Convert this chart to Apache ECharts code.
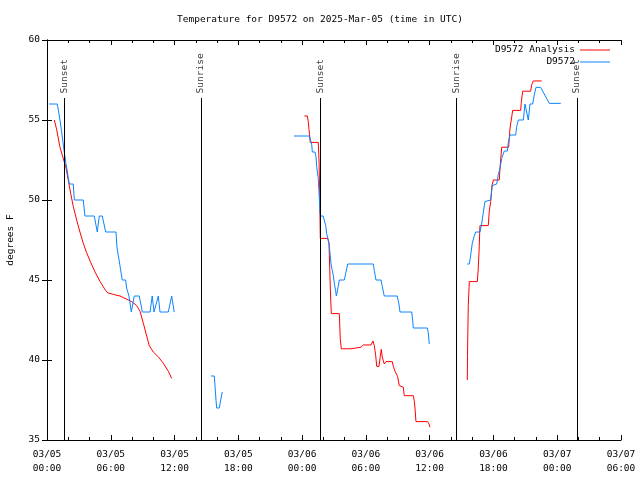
<!DOCTYPE html>
<html><head><meta charset="utf-8">
<script src="https://cdn.jsdelivr.net/npm/echarts@6/dist/echarts.min.js"></script>
<style>html,body{margin:0;padding:0;background:#fff}#c{width:640px;height:480px}</style>
</head><body><div id="c"></div>
<script>
// hours since 2025-03-05 00:00 UTC; null temperature = gap in the record
const analysisHours = [0.69,0.91,1.22,1.53,1.79,2.00,2.23,2.47,2.79,3.10,3.41,3.73,4.11,4.52,5.00,5.46,5.71,6.24,6.87,7.34,7.97,8.44,8.75,9.06,9.38,9.62,10.00,10.47,10.94,11.41,11.73,
  18,
  24.21,24.49,24.58,24.65,24.77,25.52,25.59,25.65,25.71,26.41,26.53,26.62,26.69,26.75,27.50,27.59,27.69,28.57,28.66,29.54,29.76,30.48,30.67,30.79,30.92,31.02,31.23,31.35,31.45,31.54,31.64,31.73,31.89,32.48,32.58,32.74,32.90,32.99,33.14,33.52,33.61,34.46,34.56,34.62,34.71,35.81,35.94,36.03,
  38,
  39.54,39.56,39.63,39.73,40.48,40.55,40.64,40.73,41.51,41.61,41.74,41.86,41.99,42.55,42.62,42.71,42.78,43.43,43.56,43.72,43.81,44.56,44.62,44.75,45.50,45.60,45.75,46.54];
const analysisTemps = [55,54.4,53.3,52.6,52,51.25,50.4,49.6,48.75,48,47.3,46.7,46.1,45.5,44.9,44.4,44.2,44.1,44,43.85,43.65,43.4,43.05,42.3,41.5,40.9,40.5,40.2,39.8,39.3,38.85,
  null,
  55.25,55.25,54.9,54.4,53.6,53.6,52.5,50.5,47.6,47.6,47.3,45.2,43.75,42.9,42.9,41.3,40.7,40.7,40.77,40.8,40.94,40.94,41.19,40.9,40.3,39.6,39.6,40.2,40.67,40.2,39.95,39.75,39.9,39.9,39.6,39.3,39.2,38.96,38.4,38.3,37.77,37.77,37.4,37,36.15,36.15,36,35.8,
  null,
  38.75,40.3,43.4,44.9,44.9,45.5,46.7,48.4,48.4,49.3,49.9,50.9,51.25,51.25,52,52.75,53.3,53.3,54.5,55.2,55.6,55.6,56.1,56.8,56.8,57.2,57.44,57.44];

const obsHours = [0.19,0.97,1.22,1.48,1.60,1.69,1.79,1.91,2.00,2.10,2.47,2.57,3.41,3.57,4.45,4.73,4.92,5.20,5.52,6.49,6.59,6.77,6.96,7.08,7.40,7.49,7.71,7.93,8.21,8.68,8.97,9.69,9.90,10.07,10.47,10.63,11.41,11.73,11.97,
  13,
  15.43,15.74,15.90,15.96,16.21,16.34,16.49,
  20,
  23.24,24.68,24.90,24.96,25.21,25.31,25.37,25.52,25.59,25.63,25.68,25.75,25.99,26.08,26.22,26.31,26.53,26.65,26.72,26.84,26.93,27.03,27.16,27.22,27.31,27.40,27.50,27.97,28.10,28.29,30.70,30.79,30.95,31.42,31.54,31.73,32.95,33.11,33.21,34.31,34.40,34.46,35.78,35.87,35.96,
  37,
  39.54,39.73,39.86,40.01,40.17,40.33,40.73,40.89,41.04,41.20,41.74,41.89,41.99,42.31,42.46,42.62,42.78,43.02,43.31,43.40,43.56,44.09,44.19,44.34,44.81,44.97,45.28,45.44,45.69,45.84,46.00,46.44,47.26,48.33];
const obsTemps = [56,56,55,53.75,53.1,52.7,52.25,51.8,51.4,51,51,50,50,49,49,48,49,49,48,48,47,46.3,45.5,45,45,44.5,44,43,44,44,43,43,44,43,44,43,43,44,43,
  null,
  39,39,37.5,37,37,37.5,38,
  null,
  54,54,53.5,53,53,52.7,52.1,51.35,50.5,50,49.2,49,49,48.75,48.4,47.9,47.3,46.5,46,45.6,45.3,44.8,44.3,44,44.3,44.6,45,45,45.4,46,46,45.6,45,45,44.6,44,44,43.5,43,43,42.5,42,42,41.7,41,
  null,
  46,46,46.56,47.3,47.7,48,48,48.5,49.2,49.9,50,50.9,51,51,51.6,52,52.6,53.06,53.06,53.6,54.06,54.06,54.6,55,55,56,55,56,56,56.56,57.04,57.04,56.04,56.04];

const sunHours = [1.63, 14.49, 25.71, 38.5, 49.86];
const sunLabels = ['Sunset', 'Sunrise', 'Sunset', 'Sunrise', 'Sunset'];
const seriesNames = ['D9572 Analysis', 'D9572'];
const titleText = 'Temperature for D9572 on 2025-Mar-05 (time in UTC)';
const yTicks = [35, 40, 45, 50, 55, 60];

const FONT = 'DejaVu Sans Mono';
const FS = 9.5;
const SUN_TOP = 56.375;   // top of the sun event lines (degrees)
const SUN_LABEL_Y = 56.6;

function pairs(hs, ts) { return hs.map((h, i) => [h, ts[i] === null ? '-' : ts[i]]); }
function xLabel(h) {
  const day = 5 + Math.floor(h / 24);
  const hh = h % 24;
  return '03/' + String(day).padStart(2, '0') + '\n' + String(hh).padStart(2, '0') + ':00';
}

const chart = echarts.init(document.getElementById('c'), null, {renderer: 'canvas'});
const axisLineStyle = {color: '#000', width: 1};
const legendText = {fontFamily: FONT, fontSize: FS, color: '#000'};
const option = {
  animation: false,
  backgroundColor: '#fff',
  title: {text: titleText, left: 'center', top: 10,
    textStyle: {fontFamily: FONT, fontSize: FS, fontWeight: 'normal', color: '#000'}},
  grid: {left: 47, right: 19, top: 40, bottom: 40, containLabel: false, outerBoundsMode: 'none'},
  legend: [
    {data: [seriesNames[0]], orient: 'vertical', right: 30, top: 45, align: 'right', padding: 0,
     icon: 'rect', itemWidth: 30, itemHeight: 1, itemGap: 0, textStyle: legendText},
    {data: [seriesNames[1]], orient: 'vertical', right: 30, top: 57, align: 'right', padding: 0,
     icon: 'rect', itemWidth: 30, itemHeight: 1, itemGap: 0, textStyle: legendText}
  ],
  xAxis: [
    {type: 'value', min: 0, max: 54, interval: 6, position: 'bottom',
     axisLine: {show: true, lineStyle: axisLineStyle},
     axisTick: {show: true, inside: true, length: 5, lineStyle: axisLineStyle},
     minorTick: {show: true, splitNumber: 3, length: 3, lineStyle: axisLineStyle},
     splitLine: {show: false},
     axisLabel: {formatter: xLabel, fontFamily: FONT, fontSize: FS, color: '#000', margin: 8, lineHeight: 14,
       showMinLabel: true, showMaxLabel: true}},
    {type: 'value', min: 0, max: 54, interval: 6, position: 'top',
     axisLine: {show: true, lineStyle: axisLineStyle},
     axisTick: {show: true, inside: true, length: 5, lineStyle: axisLineStyle},
     minorTick: {show: true, splitNumber: 3, length: 3, lineStyle: axisLineStyle},
     splitLine: {show: false}, axisLabel: {show: false}}
  ],
  yAxis: [
    {type: 'value', min: yTicks[0], max: yTicks[yTicks.length - 1], interval: 5, position: 'left',
     name: 'degrees F', nameLocation: 'middle', nameGap: 31, nameRotate: 90,
     nameTextStyle: {fontFamily: FONT, fontSize: FS, color: '#000'},
     axisLine: {show: true, lineStyle: axisLineStyle},
     axisTick: {show: true, inside: true, length: 5, lineStyle: axisLineStyle},
     splitLine: {show: false},
     axisLabel: {fontFamily: FONT, fontSize: FS, color: '#000', margin: 7}},
    {type: 'value', min: yTicks[0], max: yTicks[yTicks.length - 1], interval: 5, position: 'right',
     axisLine: {show: true, lineStyle: axisLineStyle},
     axisTick: {show: true, inside: true, length: 5, lineStyle: axisLineStyle},
     splitLine: {show: false}, axisLabel: {show: false}}
  ],
  series: [
    {name: 'sun', type: 'line', data: [], xAxisIndex: 0, yAxisIndex: 0, silent: true,
     markLine: {silent: true, symbol: ['none', 'none'], label: {show: false},
       lineStyle: {color: '#000', width: 1, type: 'solid'},
       data: sunHours.map(h => [{coord: [h, SUN_TOP]}, {coord: [h, yTicks[0]]}])}},
    {name: 'sunLabels', type: 'scatter', symbolSize: 0, silent: true, xAxisIndex: 0, yAxisIndex: 0,
     data: sunHours.map((h, i) => ({value: [h, SUN_LABEL_Y], name: sunLabels[i]})),
     label: {show: true, position: 'inside', rotate: 90, align: 'left', verticalAlign: 'middle',
       offset: [1, 0], formatter: p => p.name, fontFamily: FONT, fontSize: FS, color: '#000'}},
    {name: seriesNames[0], type: 'line', data: pairs(analysisHours, analysisTemps),
     showSymbol: false, symbol: 'none', connectNulls: false, color: '#ff0000',
     lineStyle: {color: '#ff0000', width: 1}},
    {name: seriesNames[1], type: 'line', data: pairs(obsHours, obsTemps),
     showSymbol: false, symbol: 'none', connectNulls: false, color: '#0a84ff',
     lineStyle: {color: '#0a84ff', width: 1}}
  ]
};
chart.setOption(option);
</script>
</body></html>
